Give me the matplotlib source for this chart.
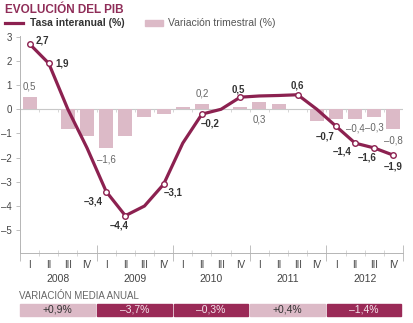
import numpy as np
import matplotlib.pyplot as plt
from matplotlib.patches import Rectangle

plt.rcParams['font.family'] = ['Liberation Sans', 'DejaVu Sans']

quarters = ['I', 'II', 'III', 'IV'] * 5
years = ['2008', '2009', '2010', '2011', '2012']
interanual = [2.7, 1.9, 0.0, -1.6, -3.4, -4.4, -4.0, -3.1, -1.4, -0.2,
              0.0, 0.5, 0.55, 0.57, 0.6, 0.0, -0.7, -1.4, -1.6, -1.9]
trimestral = [0.5, 0.0, -0.8, -1.1, -1.6, -1.1, -0.3, -0.2, 0.1, 0.2,
              0.0, 0.1, 0.3, 0.2, 0.0, -0.5, -0.4, -0.4, -0.3, -0.8]
media_anual = [0.9, -3.7, -0.3, 0.4, -1.4]

# labelled points of the line: index -> offset of the label in pixels
line_labels = {0: (13, 3), 1: (13, 0), 4: (-13, -10), 5: (-6, -10),
               7: (10, -8), 9: (8, -9), 11: (-2, 8), 14: (0, 9),
               16: (-11, -10), 17: (-13, -8), 18: (-7, -10), 19: (0, -11)}
bar_labels = {0: 6, 4: -7, 9: 6, 12: -5, 17: -5, 18: -6, 19: -7}

GRANATE = '#8c2150'
ROSA = '#dcbac7'
GRIS = '#b5b5b5'

def fmt(v, sign=False):
    s = ('%+.1f' if sign else '%.1f') % abs(v) if not sign else '%.1f' % abs(v)
    s = s.replace('.', ',')
    if v < 0:
        return '\u2013' + s
    return ('+' + s) if sign else s

fig = plt.figure(figsize=(4.14, 3.23), dpi=100)
ax = fig.add_axes([20 / 414, 1 - 252.7 / 323, 383 / 414, (252.7 - 35.5) / 323])

x = np.arange(len(interanual))
ax.bar(x, trimestral, width=0.73, color=ROSA, zorder=1)
ax.axhline(0, color='#c8c8c8', lw=0.8, zorder=0)
ax.vlines(np.arange(len(x) + 1) - 0.5, -0.12, 0, color='#d0d0d0', lw=0.6, zorder=0)

ax.plot(x, interanual, color=GRANATE, lw=2.3, zorder=3, solid_capstyle='round')
idx = sorted(line_labels)
ax.plot(x[idx], np.array(interanual)[idx], 'o', ms=4, mfc='white', mec=GRANATE,
        mew=1.0, zorder=4)

for i, (dx, dy) in line_labels.items():
    ax.annotate(fmt(interanual[i]), (x[i], interanual[i]), xytext=(dx, dy),
                textcoords='offset pixels', ha='center', va='center',
                fontsize=7, fontweight='bold', color='#333333', zorder=5)
for i, dy in bar_labels.items():
    ax.annotate(fmt(trimestral[i]), (x[i], trimestral[i] if i != 12 else 0),
                xytext=(0, dy), textcoords='offset pixels', ha='center',
                va='bottom' if dy > 0 else 'top', fontsize=7, color='#666666',
                zorder=5)

ax.set_xlim(-0.5, len(x) - 0.5)
ax.set_ylim(-5.93, 3.05)
ax.set_yticks(range(-5, 4))
ax.set_yticklabels([fmt(v).replace(',0', '') for v in range(-5, 4)])
ax.tick_params(axis='y', length=3, width=0.6, color=GRIS, pad=3,
               labelsize=7, labelcolor='#444444')

# quarter ticks and year ticks on the bottom axis
ax.set_xticks(np.arange(0, len(x) + 1, 4) - 0.5)
ax.set_xticks(np.arange(len(x) + 1) - 0.5, minor=True)
ax.tick_params(axis='x', which='major', direction='inout', length=12,
               width=0.6, color=GRIS, labelbottom=False)
ax.tick_params(axis='x', which='minor', direction='inout', length=5,
               width=0.6, color='#d0d0d0')
for i, q in enumerate(quarters):
    ax.text(x[i], -0.055, q, transform=ax.get_xaxis_transform(), ha='center',
            va='center', fontsize=7, color='#444444')
for k, yr in enumerate(years):
    ax.text(4 * k + 1.5, -0.12, yr, transform=ax.get_xaxis_transform(),
            ha='center', va='center', fontsize=7.5, color='#444444')

for s in ['top', 'right']:
    ax.spines[s].set_visible(False)
for s in ['left', 'bottom']:
    ax.spines[s].set_color(GRIS)
    ax.spines[s].set_linewidth(0.7)

# title and legend
fig.text(5 / 414, 1 - 10 / 323, 'EVOLUCIÓN DEL PIB', fontsize=8.5,
         fontweight='bold', color='#8f2d58', va='center')
fig.add_artist(plt.Line2D([5 / 414, 23 / 414], [1 - 23 / 323] * 2,
                          color=GRANATE, lw=2.3))
fig.text(30 / 414, 1 - 23 / 323, 'Tasa interanual (%)', fontsize=7.5,
         fontweight='bold', color='#333333', va='center')
fig.add_artist(Rectangle((145 / 414, 1 - 26 / 323), 18 / 414, 6 / 323,
                         color=ROSA, transform=fig.transFigure))
fig.text(168 / 414, 1 - 23 / 323, 'Variación trimestral (%)', fontsize=7.5,
         color='#555555', va='center')

# annual average boxes
fig.text(19 / 414, 1 - 296 / 323, 'VARIACIÓN MEDIA ANUAL', fontsize=7,
         color='#666666', va='center')
edges = ax.transData.transform(np.c_[np.arange(0, len(x) + 1, 4) - 0.5,
                                     np.zeros(len(years) + 1)])[:, 0]
for k, v in enumerate(media_anual):
    x0 = edges[k] / 414 + 0.5 / 414
    w = (edges[k + 1] - edges[k] - 2) / 414
    col = ROSA if v > 0 else '#9a2a57'
    fig.add_artist(Rectangle((x0, 1 - 316 / 323), w, 12 / 323, color=col,
                             transform=fig.transFigure))
    fig.text(x0 + w / 2, 1 - 310 / 323, fmt(v, sign=True) + '%',
             fontsize=7.5, ha='center', va='center',
             color='#333333' if v > 0 else '#f4e6ec')

fig.savefig('out.png', dpi=100)
